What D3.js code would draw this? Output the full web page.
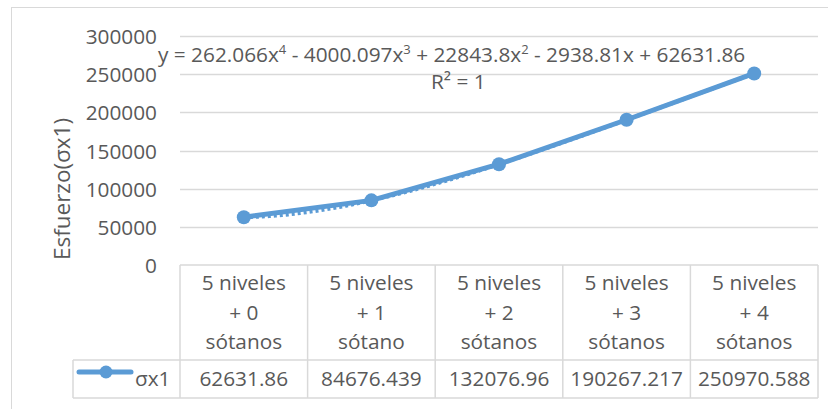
<!DOCTYPE html>
<html><head><meta charset="utf-8">
<script src="https://cdn.jsdelivr.net/npm/d3@7"></script>
<style>
html,body{margin:0;padding:0;background:#fff;}
text{font-family:"Open Sans","Liberation Sans",Arial,sans-serif;fill:#595959;}
</style></head>
<body>
<svg id="chart" width="838" height="409"></svg>
<script>
const categoryLines = [
  ["5 niveles", "+ 0", "sótanos"],
  ["5 niveles", "+ 1", "sótano"],
  ["5 niveles", "+ 2", "sótanos"],
  ["5 niveles", "+ 3", "sótanos"],
  ["5 niveles", "+ 4", "sótanos"]
];
const seriesName = "σx1";
const values = [62631.86, 84676.439, 132076.96, 190267.217, 250970.588];
const valueLabels = ["62631.86", "84676.439", "132076.96", "190267.217", "250970.588"];
const yTicks = [0, 50000, 100000, 150000, 200000, 250000, 300000];
const yTitle = "Esfuerzo(σx1)";
const eqParts = [["y = 262.066x",""],["4","sup"],[" - 4000.097x",""],["3","sup"],[" + 22843.8x",""],["2","sup"],[" - 2938.81x + 62631.86",""]];
const r2Text = "R² = 1";

(function(){
const color = "#5B9BD5";
const grid = "#D9D9D9";
const fs = 20.8;
const svg = d3.select("#chart");

// chart border (top & left visible)
svg.append("line").attr("x1",11).attr("x2",828).attr("y1",7.5).attr("y2",7.5).attr("stroke",grid);
svg.append("line").attr("x1",11.5).attr("x2",11.5).attr("y1",7).attr("y2",409).attr("stroke",grid);

const pLeft = 180, pRight = 818, pTop = 36, pBottom = 265;
const x = d3.scaleBand().domain(d3.range(values.length)).range([pLeft, pRight]).padding(0);
const y = d3.scaleLinear().domain([0, 300000]).range([pBottom, pTop]);
const cx = i => x(i) + x.bandwidth()/2;

// gridlines
svg.append("g").selectAll("line").data(yTicks.filter(d=>d>0)).join("line")
  .attr("x1",pLeft).attr("x2",pRight)
  .attr("y1",d=>Math.round(y(d))+0.5).attr("y2",d=>Math.round(y(d))+0.5)
  .attr("stroke",grid).attr("stroke-width",1.3);

// y axis labels
const yAxis = d3.axisLeft(y).tickValues(yTicks).tickSize(0).tickPadding(0).tickFormat(d=>String(d));
const yg = svg.append("g").attr("transform",`translate(157,0)`).call(yAxis);
yg.select(".domain").remove();
yg.selectAll("text").attr("font-size",fs).attr("fill","#595959")
  .attr("font-family","Open Sans, Liberation Sans, Arial, sans-serif").attr("dy","0.36em");

// axis title
svg.append("text").attr("transform","translate(70,189) rotate(-90)")
  .attr("text-anchor","middle").attr("font-size",22.5).text(yTitle);

// data table
const rowY0 = 265, rowY1 = 360, rowY2 = 398, legendLeft = 73;
const tg = svg.append("g").attr("stroke",grid).attr("stroke-width",1.5).attr("fill","none");
tg.append("line").attr("x1",pLeft).attr("x2",pRight).attr("y1",rowY0).attr("y2",rowY0);
tg.append("line").attr("x1",legendLeft).attr("x2",pRight).attr("y1",rowY1).attr("y2",rowY1);
tg.append("line").attr("x1",legendLeft).attr("x2",pRight).attr("y1",rowY2).attr("y2",rowY2);
tg.append("line").attr("x1",legendLeft).attr("x2",legendLeft).attr("y1",rowY1).attr("y2",rowY2);
tg.selectAll(".v").data(d3.range(values.length+1)).join("line")
  .attr("x1",i=>i<values.length?x(i):pRight).attr("x2",i=>i<values.length?x(i):pRight)
  .attr("y1",rowY0).attr("y2",rowY2);

// category labels
const cg = svg.append("g");
categoryLines.forEach((lines,i)=>{
  lines.forEach((t,j)=>{
    cg.append("text").attr("x",cx(i)).attr("y",290+j*29.5).attr("text-anchor","middle")
      .attr("font-size",fs).text(t);
  });
});
// value labels
svg.append("g").selectAll("text").data(valueLabels).join("text")
  .attr("x",(d,i)=>cx(i)).attr("y",385.5).attr("text-anchor","middle").attr("font-size",fs).text(d=>d);

// legend key
svg.append("line").attr("x1",79).attr("x2",131).attr("y1",372).attr("y2",372)
  .attr("stroke",color).attr("stroke-width",5).attr("stroke-linecap","round");
svg.append("circle").attr("cx",106).attr("cy",372).attr("r",6.5).attr("fill",color);
svg.append("text").attr("x",135).attr("y",385.5).attr("font-size",fs).text(seriesName);

// trendline: degree-4 polynomial through the points (R² = 1)
function lagrange(t){
  let s = 0;
  for(let i=0;i<values.length;i++){
    let p = values[i];
    for(let j=0;j<values.length;j++) if(j!==i) p *= (t-j)/(i-j);
    s += p;
  }
  return s;
}
const trendT = d3.range(0, values.length-1+0.001, 0.05);
const tx = d3.scaleLinear().domain([0, values.length-1]).range([cx(0), cx(values.length-1)]);
svg.append("path").datum(trendT)
  .attr("d", d3.line().x(t=>tx(t)).y(t=>y(lagrange(t))))
  .attr("fill","none").attr("stroke",color).attr("stroke-width",4)
  .attr("stroke-dasharray","3 3");

// series line
svg.append("path").datum(values)
  .attr("d", d3.line().x((d,i)=>cx(i)).y(d=>y(d)))
  .attr("fill","none").attr("stroke",color).attr("stroke-width",5).attr("stroke-linejoin","round");
svg.append("g").selectAll("circle").data(values).join("circle")
  .attr("cx",(d,i)=>cx(i)).attr("cy",d=>y(d)).attr("r",7).attr("fill",color);

// equation
const eq = svg.append("text").attr("x",158).attr("y",62).attr("font-size",fs);
eqParts.forEach(([t,k],idx)=>{
  if(k==="sup") eq.append("tspan").attr("font-size",13).attr("dy",-8).text(t);
  else eq.append("tspan").attr("dy", idx>0?8:0).text(t);
});
svg.append("text").attr("x",431).attr("y",89).attr("font-size",fs).text(r2Text);
})();
</script>
</body></html>
